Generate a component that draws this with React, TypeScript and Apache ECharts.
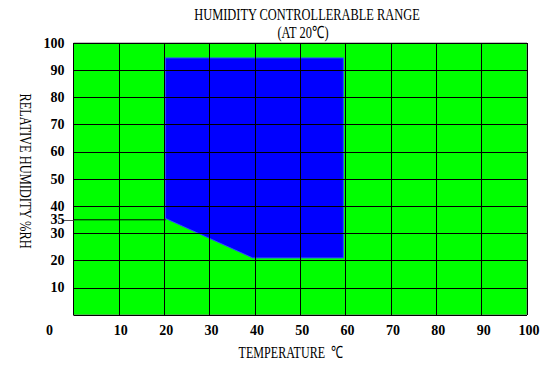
import React, { useEffect, useRef } from "react";
import * as echarts from "echarts";

const titleLines = ["HUMIDITY CONTROLLERABLE RANGE", "(AT 20℃)"];
const xAxisName = "TEMPERATURE  ℃";
const yAxisName = "RELATIVE HUMIDITY %RH";
const xTicks = [0, 10, 20, 30, 40, 50, 60, 70, 80, 90, 100];
const yTicks = [10, 20, 30, 35, 40, 50, 60, 70, 80, 90, 100];
const markerLevel = [35];
const rangeTemp = [20.3, 59.5, 59.5, 39.5, 20.3];
const rangeHumidity = [94.5, 94.5, 21, 21, 35.5];

const serifFont = '"Liberation Serif", "Times New Roman", serif';

export default function App() {
  const ref = useRef<HTMLDivElement>(null);
  useEffect(() => {
    if (!ref.current) return;
    const chart = echarts.init(ref.current, null, { renderer: "svg" });
    const polyData = rangeTemp.map((t, i) => [t, rangeHumidity[i]]);
    const nameStyle = { fontSize: 17, fontFamily: serifFont, fill: "#000" };
    const labelBase = { fontSize: 14, fontWeight: "bold", fontFamily: serifFont, color: "#000" };
    chart.setOption({
      animation: false,
      backgroundColor: "#fff",
      grid: {
        left: 73.5,
        right: 31,
        top: 43,
        bottom: 51,
        show: true,
        backgroundColor: "#00ff00",
        borderColor: "#808080",
        borderWidth: 1,
      },
      graphic: [
        { type: "text", x: 307, y: 14, scaleX: 0.73, style: { ...nameStyle, text: titleLines[0], align: "center", verticalAlign: "middle" } },
        { type: "text", x: 303, y: 32, scaleX: 0.73, style: { ...nameStyle, text: titleLines[1], align: "center", verticalAlign: "middle" } },
        { type: "text", x: 291, y: 352, scaleX: 0.71, style: { ...nameStyle, text: xAxisName, align: "center", verticalAlign: "middle" } },
        { type: "text", x: 26, y: 171, rotation: -Math.PI / 2, scaleX: 0.73, style: { ...nameStyle, text: yAxisName, align: "center", verticalAlign: "middle" } },
      ],
      xAxis: {
        type: "value",
        min: 0,
        max: 100,
        interval: 10,
        z: 3,
        axisLine: { show: false },
        axisTick: { show: false },
        splitLine: { show: true, lineStyle: { color: "#000", width: 1 } },
        axisLabel: {
          customValues: xTicks,
          margin: 8,
          ...labelBase,
          formatter: (v: number) => (v === 0 ? "{o|0}" : "{n|" + v + "}"),
          rich: {
            o: { padding: [0, 48, 0, 0], ...labelBase },
            n: { padding: [0, 0, 0, 4], ...labelBase },
          },
        },
      },
      yAxis: [
        {
          type: "value",
          min: 0,
          max: 100,
          interval: 10,
          z: 3,
          axisLine: { show: false },
          axisTick: { show: false },
          splitLine: { show: true, lineStyle: { color: "#000", width: 1 } },
          axisLabel: {
            customValues: yTicks,
            margin: 9,
            ...labelBase,
          },
        },
        {
          type: "value",
          position: "left",
          min: 0,
          max: 100,
          interval: 10,
          z: 3,
          axisLine: { show: false },
          axisLabel: { show: false },
          splitLine: { show: false },
          axisTick: { show: true, customValues: markerLevel, length: 11, lineStyle: { color: "#555", width: 1 } },
        },
      ],
      series: [
        {
          type: "custom",
          data: polyData,
          encode: { x: 0, y: 1 },
          renderItem: (params: any, api: any) => {
            if (params.dataIndex !== 0) return { type: "group", children: [] };
            const pts = polyData.map((d) => api.coord(d));
            return {
              type: "polygon",
              shape: { points: pts },
              style: { fill: "#0000ff", stroke: "#2a4cff", lineWidth: 1 },
            };
          },
        },
        {
          type: "line",
          data: [[0, markerLevel[0]], [rangeTemp[4], markerLevel[0]]],
          symbol: "none",
          lineStyle: { color: "#000", width: 1 },
          z: 3,
        },
      ],
    });
    return () => chart.dispose();
  }, []);
  return <div ref={ref} style={{ width: 558, height: 366, margin: -8 }} />;
}
